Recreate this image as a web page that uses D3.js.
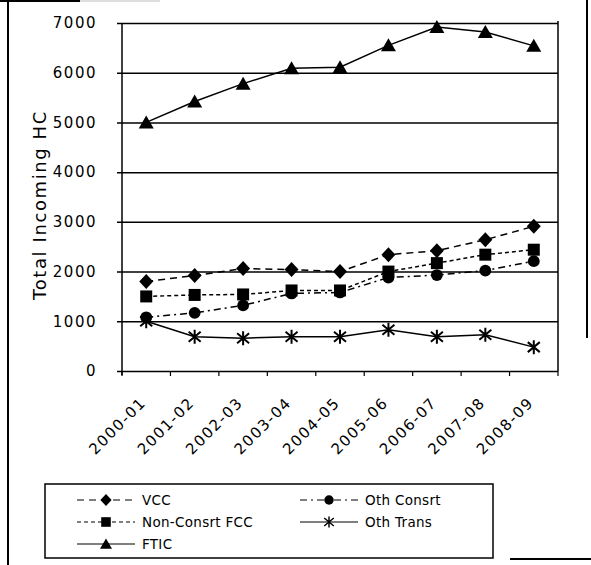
<!DOCTYPE html>
<html>
<head>
<meta charset="utf-8">
<script src="https://cdn.jsdelivr.net/npm/d3@7"></script>
<style>
  html, body { margin: 0; padding: 0; background: #fff; }
  svg { display: block; }
  text { font-family: "DejaVu Sans", sans-serif; fill: #000; }
</style>
</head>
<body>
<svg id="chart" width="591" height="565"></svg>
<script>
// School years on the horizontal axis
const years = ["2000-01", "2001-02", "2002-03", "2003-04", "2004-05",
               "2005-06", "2006-07", "2007-08", "2008-09"];

// Incoming headcount per group
const vcc        = [1800, 1920, 2060, 2040, 2000, 2340, 2420, 2640, 2910];
const nonConsFcc = [1500, 1530, 1540, 1620, 1620, 2000, 2170, 2340, 2440];
const ftic       = [5000, 5420, 5780, 6090, 6110, 6550, 6920, 6820, 6540];
const othConsrt  = [1080, 1170, 1320, 1560, 1580, 1880, 1930, 2020, 2210];
const othTrans   = [1000, 690, 660, 690, 690, 830, 690, 730, 480];

const yTicks = [0, 1000, 2000, 3000, 4000, 5000, 6000, 7000];

const series = [
  { name: "VCC",            values: vcc,        dash: "7,5",      marker: "diamond"  },
  { name: "Non-Consrt FCC", values: nonConsFcc, dash: "4,3",      marker: "square"   },
  { name: "FTIC",           values: ftic,       dash: null,       marker: "triangle" },
  { name: "Oth Consrt",     values: othConsrt,  dash: "7,4,2,4",  marker: "circle"   },
  { name: "Oth Trans",      values: othTrans,   dash: null,       marker: "asterisk" }
];

const svg = d3.select("#chart");

const plot = { left: 122, right: 558, top: 23, bottom: 371 };

const x = d3.scalePoint().domain(years).range([plot.left, plot.right]).padding(0.5);
const y = d3.scaleLinear().domain([0, 7000]).range([plot.bottom, plot.top]);

// Page edges
svg.append("line").attr("x1", 8).attr("x2", 8).attr("y1", 0).attr("y2", 565)
  .attr("stroke", "#000").attr("stroke-width", 2);
svg.append("line").attr("x1", 0).attr("x2", 80).attr("y1", 1).attr("y2", 1)
  .attr("stroke", "#000").attr("stroke-width", 2);
svg.append("line").attr("x1", 80).attr("x2", 160).attr("y1", 1).attr("y2", 1)
  .attr("stroke", "#bbb").attr("stroke-width", 1);
svg.append("line").attr("x1", 587).attr("x2", 587).attr("y1", 0).attr("y2", 338)
  .attr("stroke", "#000").attr("stroke-width", 2);
svg.append("line").attr("x1", 510).attr("x2", 591).attr("y1", 559).attr("y2", 559)
  .attr("stroke", "#000").attr("stroke-width", 2);

// Horizontal gridlines with y axis labels
const yAxis = d3.axisLeft(y).tickValues(yTicks).tickSize(-(plot.right - plot.left) - 5)
  .tickPadding(20).tickFormat(d3.format("d"));
const gy = svg.append("g").attr("transform", `translate(${plot.left - 5},0)`).call(yAxis);
gy.select(".domain").remove();
gy.selectAll(".tick line").attr("stroke", "#000").attr("stroke-width", 1.5);
gy.selectAll(".tick text").attr("font-size", 15).attr("letter-spacing", "1.5px")
  .attr("x", 97 - (plot.left - 5)).attr("text-anchor", "end");

// Plot frame: left axis and right edge
svg.append("line").attr("x1", plot.left).attr("x2", plot.left)
  .attr("y1", plot.top).attr("y2", plot.bottom + 4)
  .attr("stroke", "#000").attr("stroke-width", 1.5);
svg.append("line").attr("x1", plot.right).attr("x2", plot.right)
  .attr("y1", plot.top - 2).attr("y2", plot.bottom)
  .attr("stroke", "#000").attr("stroke-width", 1.5);

// Category boundary ticks below the x axis
const step = x.step();
const bounds = d3.range(years.length + 1).map(i => plot.left + i * step);
svg.append("g").selectAll("line").data(bounds).join("line")
  .attr("x1", d => d).attr("x2", d => d)
  .attr("y1", plot.bottom).attr("y2", plot.bottom + 5)
  .attr("stroke", "#000").attr("stroke-width", 1.2);

// Rotated year labels
svg.append("g").selectAll("text").data(years).join("text")
  .attr("transform", d => `translate(${x(d) - 3},${plot.bottom + 29}) rotate(-45)`)
  .attr("text-anchor", "end")
  .attr("dy", "0.35em")
  .attr("font-size", 15)
  .attr("letter-spacing", "1.5px")
  .text(d => d);

// Axis title
svg.append("text")
  .attr("transform", `translate(46,${(plot.top + plot.bottom) / 2 + 8}) rotate(-90)`)
  .attr("text-anchor", "middle")
  .attr("font-size", 18)
  .attr("letter-spacing", "1.6px")
  .text("Total Incoming HC");

// Marker shapes
function markerPath(kind) {
  switch (kind) {
    case "diamond":  return "M0,-7.5L7,0L0,7.5L-7,0Z";
    case "square":   return "M-6,-6H6V6H-6Z";
    case "triangle": return "M0,-7L7.5,6H-7.5Z";
    case "circle":   return d3.symbol(d3.symbolCircle, 110)();
    case "asterisk": return "M0,-7V7M-6,-5L6,5M-6,5L6,-5";
  }
}
function drawMarker(g, kind, cx, cy) {
  const p = g.append("path").attr("d", markerPath(kind))
    .attr("transform", `translate(${cx},${cy})`);
  if (kind === "asterisk") p.attr("fill", "none").attr("stroke", "#000").attr("stroke-width", 2);
  else p.attr("fill", "#000").attr("stroke", "none");
}

// Series lines and markers
const line = d3.line().x((d, i) => x(years[i])).y(d => y(d));
series.forEach(s => {
  const g = svg.append("g");
  g.append("path").datum(s.values).attr("d", line)
    .attr("fill", "none").attr("stroke", "#000").attr("stroke-width", 1.5)
    .attr("stroke-dasharray", s.dash);
  s.values.forEach((v, i) => drawMarker(g, s.marker, x(years[i]), y(v)));
});

// Legend
const legend = svg.append("g");
legend.append("rect").attr("x", 45).attr("y", 484).attr("width", 448).attr("height", 74)
  .attr("fill", "#fff").attr("stroke", "#000").attr("stroke-width", 1.5);
const legendPos = [
  { x: 77,  y: 500 }, { x: 77, y: 522 }, { x: 77, y: 544 },
  { x: 300, y: 500 }, { x: 300, y: 522 }
];
series.forEach((s, i) => {
  const p = legendPos[i];
  const g = legend.append("g");
  g.append("line").attr("x1", p.x).attr("x2", p.x + 58).attr("y1", p.y).attr("y2", p.y)
    .attr("stroke", "#000").attr("stroke-width", 1.2).attr("stroke-dasharray", s.dash);
  const m = g.append("path").attr("d", markerPath(s.marker))
    .attr("transform", `translate(${p.x + 29},${p.y}) scale(0.8)`);
  if (s.marker === "asterisk") m.attr("fill", "none").attr("stroke", "#000").attr("stroke-width", 1.8);
  else m.attr("fill", "#000");
  g.append("text").attr("x", p.x + 65).attr("y", p.y).attr("dy", "0.35em")
    .attr("font-size", 13.5).attr("letter-spacing", "0.3px").text(s.name);
});
</script>
</body>
</html>
